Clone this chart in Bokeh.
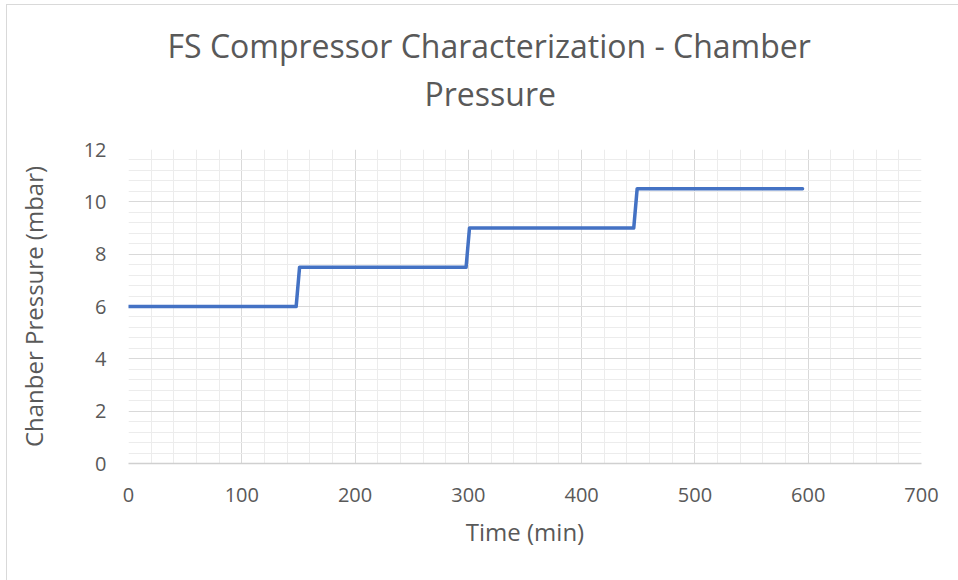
from bokeh.plotting import figure
from bokeh.models import FixedTicker, Range1d, Title
from bokeh.embed import file_html
from bokeh.resources import INLINE

# Chamber pressure during the compressor characterization run
time_min = [0, 148, 151, 298, 301, 446, 449, 595]
pressure_mbar = [6.0, 6.0, 7.5, 7.5, 9.0, 9.0, 10.5, 10.5]

x_ticks = [0, 100, 200, 300, 400, 500, 600, 700]
y_ticks = [0, 2, 4, 6, 8, 10, 12]

title_lines = ["FS Compressor Characterization - Chamber", "Pressure"]
x_label = "Time (min)"
y_label = "Chanber Pressure (mbar)"

FONT = "Open Sans"
TEXT_GREY = "#595959"

p = figure(
    width=952, height=576,
    output_backend="svg", toolbar_location=None,
    x_range=Range1d(0, 700), y_range=Range1d(0, 12),
    min_border_left=121, min_border_right=38,
    min_border_top=144, min_border_bottom=118,
    background_fill_color="white", border_fill_color="white",
    outline_line_color=None,
)
p.styles = {
    "margin-left": "6px", "margin-top": "4px",
    "border-left": "1.5px solid #d9d9d9", "border-top": "1px solid #d9d9d9",
}

p.line(time_min, pressure_mbar, line_color="#4472C4", line_width=3.5,
       line_join="round", line_cap="round")

# grids: major every 100 min / 2 mbar, minor every 20 min / 0.4 mbar
x_minor = [v for v in range(0, 701, 20) if v % 100]
y_minor = [round(i * 0.4, 1) for i in range(31) if i % 5]
p.xaxis.ticker = FixedTicker(ticks=x_ticks, minor_ticks=x_minor)
p.yaxis.ticker = FixedTicker(ticks=y_ticks, minor_ticks=y_minor)
for g in (p.xgrid, p.ygrid):
    g.grid_line_color = "#d9d9d9"
    g.grid_line_width = 1
    g.minor_grid_line_color = "#ececec"
    g.minor_grid_line_width = 1

for ax in (p.xaxis, p.yaxis):
    ax.major_tick_line_color = None
    ax.minor_tick_line_color = None
    ax.major_tick_out = 0
    ax.major_tick_in = 0
    ax.major_label_text_font = FONT
    ax.major_label_text_font_size = "20px"
    ax.major_label_text_color = TEXT_GREY
    ax.axis_label_text_font = FONT
    ax.axis_label_text_font_size = "24px"
    ax.axis_label_text_font_style = "normal"
    ax.axis_label_text_color = TEXT_GREY

p.xaxis.axis_line_color = "#d0d0d0"
p.xaxis.axis_line_width = 1.5
p.yaxis.axis_line_color = None
p.xaxis.major_label_standoff = 20
p.yaxis.major_label_standoff = 18
p.xaxis.axis_label = x_label
p.yaxis.axis_label = y_label
p.xaxis.axis_label_standoff = 10
p.yaxis.axis_label_standoff = 31

# two-line chart title (the later one sits on top), left-aligned with offsets
for text, standoff, offset in ((title_lines[1], 70, 296), (title_lines[0], -64, 39)):
    p.add_layout(Title(
        text=text, align="left", offset=offset, standoff=standoff,
        text_font=FONT, text_font_size="32px", text_font_style="normal",
        text_color=TEXT_GREY,
    ), "above")

open("out.html", "w").write(file_html(p, INLINE))
